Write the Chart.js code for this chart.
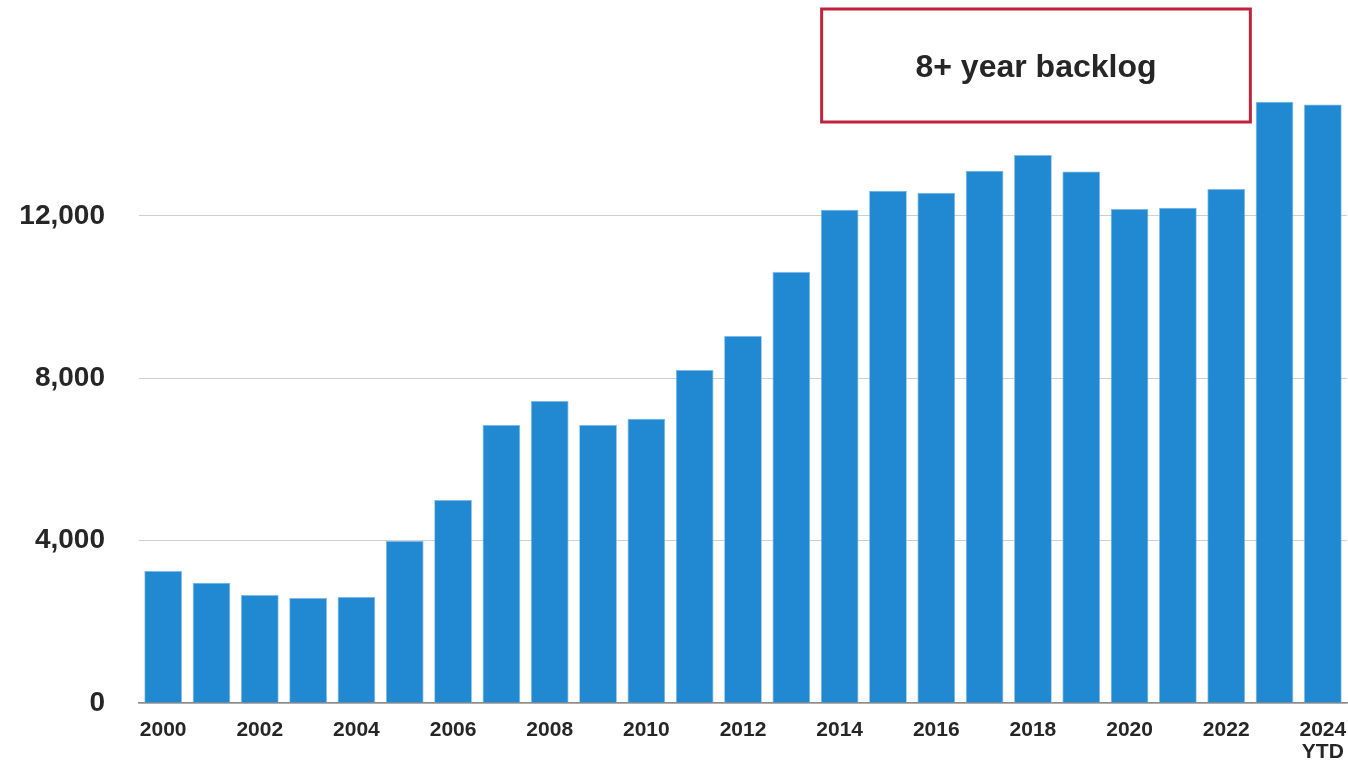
<!DOCTYPE html>
<html>
<head>
<meta charset="utf-8">
<style>
  html, body { margin: 0; padding: 0; background: #fff; }
  #wrap { width: 1348px; height: 761px; }
</style>
<script src="https://cdn.jsdelivr.net/npm/chart.js@4.4.1/dist/chart.umd.min.js"></script>
</head>
<body>
<div id="wrap"><canvas id="chart"></canvas></div>
<script>
const years = ['2000', '2001', '2002', '2003', '2004', '2005', '2006', '2007', '2008', '2009',
  '2010', '2011', '2012', '2013', '2014', '2015', '2016', '2017', '2018', '2019',
  '2020', '2021', '2022', '2023', ['2024', 'YTD']];
const backlog = [3250, 2960, 2660, 2590, 2610, 3990, 5000, 6850, 7440, 6850,
  7000, 8200, 9040, 10620, 12150, 12620, 12570, 13110, 13500, 13090,
  12170, 12200, 12660, 14810, 14740];
const yTicks = [0, 4000, 8000, 12000];
const noteText = '8+ year backlog';

const textColor = '#262626';
const fontFamily = '"Liberation Sans", Arial, sans-serif';

// red outlined callout above the recent years
const notePlugin = {
  id: 'note',
  afterDraw(chart) {
    const { ctx } = chart;
    const x = chart.scales.x;
    const left = x.getPixelForValue(14) - 18;
    const right = (x.getPixelForValue(22) + x.getPixelForValue(23)) / 2;
    const top = 9, bottom = 122;
    ctx.save();
    ctx.strokeStyle = '#c0233a';
    ctx.lineWidth = 3;
    ctx.strokeRect(left, top, right - left, bottom - top);
    ctx.fillStyle = textColor;
    ctx.font = 'bold 32px ' + fontFamily;
    ctx.textAlign = 'center';
    ctx.textBaseline = 'middle';
    ctx.fillText(noteText, (left + right) / 2, (top + bottom) / 2 + 3);
    ctx.restore();
  }
};

new Chart(document.getElementById('chart'), {
  type: 'bar',
  data: {
    labels: years,
    datasets: [{
      data: backlog,
      backgroundColor: '#2189d1',
      borderColor: '#7fbbe6',
      borderWidth: 0.8,
      barPercentage: 0.78,
      categoryPercentage: 1
    }]
  },
  options: {
    responsive: true,
    maintainAspectRatio: false,
    animation: false,
    layout: { padding: { top: 94, left: 16, right: 1, bottom: 0 } },
    plugins: {
      legend: { display: false },
      tooltip: { enabled: false }
    },
    scales: {
      x: {
        grid: { display: false, drawTicks: false },
        border: { color: '#8c8c8c', width: 1.5 },
        afterFit: axis => {
          axis.height = 58;
          axis.paddingLeft = 0;
          axis.paddingRight = 0;
        },
        ticks: {
          autoSkip: false,
          maxRotation: 0,
          padding: 16,
          color: textColor,
          font: { family: fontFamily, size: 21, weight: 'bold', lineHeight: 1.05 },
          callback: (value, index) => index % 2 === 0 ? years[index] : ''
        }
      },
      y: {
        min: 0,
        max: 15000,
        afterBuildTicks: axis => { axis.ticks = yTicks.map(v => ({ value: v })); },
        afterFit: axis => { axis.width = 123; },
        grid: { color: '#cfcfcf', lineWidth: 1, drawTicks: false },
        border: { display: false },
        ticks: {
          padding: 34,
          color: textColor,
          font: { family: fontFamily, size: 28, weight: 'bold' },
          callback: v => v.toLocaleString('en-US')
        }
      }
    }
  },
  plugins: [notePlugin]
});
</script>
</body>
</html>
